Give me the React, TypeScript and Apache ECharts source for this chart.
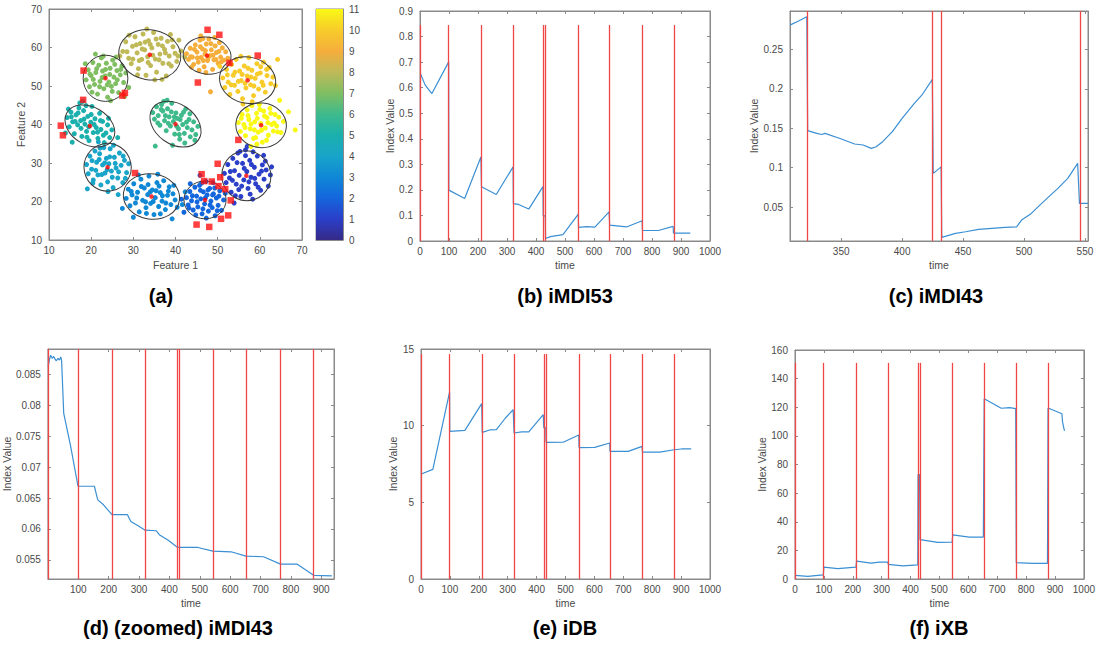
import React, { useEffect, useRef } from 'react';
import * as echarts from 'echarts';

// ---------------- data ----------------
const panelTitles = ['(a)', '(b) iMDI53', '(c) iMDI43', '(d) (zoomed) iMDI43', '(e) iDB', '(f) iXB'];

// parula-like colours for cluster labels 1..11 (colour bar 0..11)
const colorbarStops = ['#352a87', '#2b3fc9', '#1466dd', '#0f88d6', '#19a4c9', '#1bb0ad', '#3fba8b', '#80be62', '#bfb958', '#f6ae3c', '#f7cc2a', '#f9f916'];
const clusterLabels = [1, 2, 3, 4, 5, 6, 7, 8, 9, 10, 11];

const cluster1 = [[51.6,27.3],[52.0,24.9],[52.4,29.6],[52.8,26.1],[53.2,22.4],[53.6,31.2],[54.0,28.0],[54.4,24.5],[54.8,32.6],[55.1,26.8],[55.5,21.3],[55.9,29.9],[56.2,25.6],[56.6,33.4],[56.9,27.8],[57.2,23.4],[57.6,30.7],[57.9,26.3],[58.3,20.6],[58.7,28.9],[59.0,24.6],[59.4,31.8],[59.8,27.1],[60.2,22.9],[60.6,29.5],[61.0,25.8],[61.5,28.2],[62.0,24.0],[62.5,26.9],[57.0,34.3],[53.9,19.6],[56.6,31.9],[58.4,32.9],[55.0,23.1],
  [53.0,27.8],[54.6,30.1],[55.7,24.0],[56.3,28.6],[57.4,25.1],[58.0,29.6],[58.8,26.0],[59.6,23.7],[60.4,27.9],[61.3,30.5],[55.3,33.0],[53.5,25.5],[57.7,21.9],[60.9,32.0],[62.8,29.0],[54.2,21.5]];
const cluster2 = [[42.6,21.0],[43.0,19.1],[43.4,22.6],[43.8,20.2],[44.2,17.8],[44.6,23.7],[45.0,21.4],[45.3,18.6],[45.7,24.2],[46.0,20.7],[46.3,16.8],[46.6,22.5],[46.9,19.4],[47.2,25.2],[47.5,21.7],[47.8,17.5],[48.1,23.4],[48.4,20.1],[48.7,18.4],[49.0,22.0],[49.4,16.3],[49.7,20.9],[50.1,19.0],[50.5,22.8],[50.9,17.7],[51.4,20.4],[45.8,26.8],[42.0,17.2],[41.4,20.6],[43.5,24.6],[47.3,15.7],[48.9,24.9],
  [44.0,21.5],[45.1,19.9],[45.9,22.9],[46.5,18.1],[47.1,21.0],[47.7,23.0],[48.2,19.1],[48.8,21.7],[49.3,23.5],[50.3,21.4],[44.8,16.5],[46.2,24.8],[49.9,17.6],[51.8,22.1],[43.2,18.3]];
const cluster3 = [[28.3,20.8],[28.8,23.2],[29.2,18.9],[29.7,21.7],[30.1,24.6],[30.5,19.6],[31.0,22.4],[31.4,17.3],[31.8,25.8],[32.2,20.3],[32.6,23.5],[33.0,18.4],[33.4,21.8],[33.7,26.6],[34.1,19.5],[34.5,23.0],[34.9,16.6],[35.2,21.0],[35.6,24.9],[36.0,18.7],[36.4,22.3],[36.8,20.1],[37.2,25.4],[37.6,17.9],[38.1,21.6],[38.5,23.8],[38.9,19.2],[39.4,22.0],[39.9,20.4],[40.4,18.5],[39.2,15.5],[41.6,19.2],[42.3,22.5],[27.4,18.2],[30.0,15.9],[35.8,27.1],
  [29.5,22.6],[30.8,20.9],[31.9,23.9],[32.9,19.9],[33.5,24.4],[34.0,22.5],[34.7,20.0],[35.4,22.8],[36.1,24.0],[36.9,21.5],[37.7,19.6],[38.3,22.7],[39.6,24.2],[33.1,16.9],[36.4,16.8],[31.2,26.9]];
const cluster4 = [[18.9,29.6],[19.3,27.2],[19.7,31.8],[20.1,28.4],[20.5,25.6],[20.9,33.1],[21.3,30.2],[21.6,26.9],[22.0,32.4],[22.3,24.3],[22.7,29.5],[23.0,34.0],[23.3,27.4],[23.6,31.2],[23.9,25.1],[24.2,29.8],[24.5,33.7],[24.8,27.9],[25.2,23.6],[25.5,31.5],[25.9,28.7],[26.3,26.1],[26.7,32.6],[27.1,29.4],[27.5,24.9],[27.9,30.7],[28.4,27.5],[28.9,29.8],[19.1,23.3],[26.4,21.8],[21.7,35.5],[24.0,22.6],
  [20.2,30.6],[21.1,28.1],[21.9,30.9],[22.5,27.0],[23.2,30.0],[23.8,28.3],[24.4,31.6],[25.0,26.3],[25.7,29.9],[26.5,27.7],[27.6,31.8],[22.1,33.9],[25.3,34.6],[20.4,24.8],[28.1,26.0]];
const cluster5 = [[14.3,41.8],[14.8,39.4],[15.2,43.2],[15.6,40.7],[16.0,37.6],[16.4,42.5],[16.8,39.9],[17.1,44.3],[17.5,41.0],[17.8,36.9],[18.2,43.6],[18.5,40.1],[18.9,38.2],[19.2,42.1],[19.5,35.8],[19.9,40.6],[20.2,44.7],[20.5,37.9],[20.9,41.5],[21.2,39.2],[21.6,36.4],[22.0,42.9],[22.3,38.7],[22.7,40.8],[23.1,35.3],[23.5,37.8],[23.9,39.9],[24.4,36.6],[24.9,38.6],[15.5,35.4],[26.3,36.6],[13.9,37.8],[18.0,46.0],
  [15.3,42.0],[16.2,40.8],[16.9,43.0],[17.6,39.0],[18.3,41.4],[18.8,44.9],[19.4,39.4],[20.0,42.6],[20.7,40.0],[21.5,38.0],[22.2,41.0],[22.9,37.2],[19.0,36.7],[17.3,45.6],[24.1,41.6],[14.6,44.0]];
const cluster6 = [[34.6,43.1],[35.0,41.4],[35.5,44.6],[35.9,42.3],[36.3,39.8],[36.7,45.2],[37.0,43.5],[37.4,41.0],[37.8,38.4],[38.1,44.1],[38.5,42.0],[38.8,39.6],[39.1,45.5],[39.5,40.8],[39.8,37.5],[40.1,43.0],[40.4,41.6],[40.7,38.9],[41.0,36.2],[41.4,42.4],[41.7,40.0],[42.1,37.7],[42.4,44.0],[42.8,39.2],[43.2,41.3],[43.5,36.8],[43.9,38.6],[44.3,40.7],[44.8,37.4],[45.3,39.5],[39.3,34.6],[35.2,34.4],[38.0,46.3],
  [35.8,40.4],[36.6,43.9],[37.6,42.3],[38.3,40.3],[39.0,43.3],[39.7,42.0],[40.3,39.5],[41.1,41.3],[41.9,43.2],[42.6,40.6],[43.4,42.8],[40.9,37.4],[37.2,46.0],[44.6,35.9],[42.2,35.2]];
const cluster7 = [[18.8,51.6],[19.3,54.2],[19.6,49.8],[20.0,52.7],[20.4,56.1],[20.8,50.4],[21.1,53.5],[21.5,47.9],[21.8,55.4],[22.1,51.2],[22.4,57.3],[22.7,53.9],[23.0,49.3],[23.3,52.6],[23.6,55.9],[23.9,47.1],[24.2,51.0],[24.5,54.6],[24.8,49.9],[25.1,56.7],[25.4,52.3],[25.8,50.6],[26.1,54.0],[26.5,48.3],[26.9,52.9],[27.3,55.2],[27.7,50.9],[28.2,53.4],[21.0,58.3],[24.6,46.2],[18.6,55.8],[28.9,49.6],
  [19.7,53.1],[20.5,51.7],[21.3,54.5],[22.0,49.8],[22.6,52.2],[23.4,54.3],[23.8,50.3],[24.4,53.0],[25.0,48.6],[25.6,55.6],[26.2,51.6],[27.0,54.3],[22.9,57.8],[20.2,48.4],[27.9,47.3],[25.9,57.5]];
const cluster8 = [[27.5,59.0],[28.2,61.5],[28.9,57.2],[29.5,55.8],[29.8,60.3],[30.4,62.8],[30.9,58.6],[31.2,54.5],[31.6,61.0],[32.0,56.9],[32.3,63.5],[32.7,59.4],[33.0,52.8],[33.4,57.6],[33.6,61.8],[34.1,55.3],[34.4,59.9],[34.8,63.9],[35.2,57.0],[35.5,53.6],[35.9,60.8],[36.3,58.3],[36.6,62.4],[37.0,55.9],[37.4,59.5],[37.8,52.6],[38.1,61.6],[38.5,57.8],[39.0,55.2],[39.4,60.2],[39.9,58.5],[40.3,56.4],[40.8,61.9],[41.3,59.1],[33.2,64.8],[29.0,63.2],[36.8,51.7],[38.8,63.4],[42.2,57.5],[26.8,57.8],
  [28.5,58.9],[29.9,57.0],[30.7,60.7],[31.4,56.6],[32.1,59.6],[32.8,61.4],[33.5,56.1],[34.0,60.8],[34.6,58.0],[35.4,62.2],[36.1,56.8],[36.9,60.4],[37.6,58.6],[38.4,55.8],[39.2,62.0],[40.6,57.8],[31.0,52.9],[35.1,51.6]];
const cluster9 = [[42.6,58.4],[43.1,56.9],[43.5,59.8],[44.0,57.5],[44.3,55.6],[44.7,60.7],[45.1,58.8],[45.4,56.2],[45.8,61.9],[46.1,57.4],[46.4,59.6],[46.8,55.0],[47.0,58.3],[47.3,60.9],[47.6,56.6],[47.9,62.2],[48.2,57.9],[48.5,59.4],[48.8,54.3],[49.1,56.8],[49.4,60.4],[49.7,58.7],[50.1,55.9],[50.4,61.3],[50.7,57.5],[51.1,59.9],[51.5,56.7],[51.9,58.9],[52.4,57.2],[47.2,53.5],[45.6,54.1],[46.0,63.0],[48.3,48.5],
  [43.6,57.6],[44.5,59.5],[45.2,57.3],[45.9,60.2],[46.6,56.6],[47.1,59.2],[47.7,57.2],[48.4,61.0],[48.9,58.0],[49.6,56.9],[50.3,59.0],[50.9,56.3],[46.5,62.3],[49.3,62.6],[43.8,54.9]];
const cluster10 = [[51.2,52.1],[51.7,49.6],[52.1,54.3],[52.5,51.0],[52.9,47.8],[53.3,55.6],[53.7,52.8],[54.0,50.2],[54.4,56.9],[54.8,48.6],[55.2,53.9],[55.6,51.4],[55.9,46.7],[56.3,55.2],[56.7,49.5],[57.0,52.6],[57.4,57.4],[57.8,50.3],[58.1,54.1],[58.5,47.5],[58.9,52.0],[59.3,55.8],[59.7,49.2],[60.1,53.4],[60.5,51.0],[60.9,56.2],[61.3,48.4],[61.7,52.7],[62.2,54.8],[62.6,50.6],[63.1,52.3],[64.2,56.9],[56.0,45.3],[50.5,55.1],
  [52.3,52.9],[53.2,50.3],[54.1,53.6],[54.9,51.2],[55.8,53.0],[56.5,50.7],[57.2,54.6],[57.9,52.3],[58.6,50.0],[59.4,53.1],[60.2,55.0],[60.8,50.2],[61.6,54.3],[55.5,57.7],[58.2,45.9],[63.7,50.1]];
const cluster11 = [[54.9,40.5],[55.4,38.2],[55.8,42.6],[56.2,40.0],[56.6,37.1],[57.0,43.8],[57.4,41.3],[57.7,38.9],[58.1,44.9],[58.5,36.4],[58.8,40.7],[59.2,42.9],[59.6,38.0],[59.9,45.2],[60.2,40.3],[60.6,35.4],[60.9,43.5],[61.3,39.1],[61.7,41.8],[62.0,37.2],[62.4,44.2],[62.8,40.0],[63.2,38.3],[63.6,42.6],[64.0,39.6],[64.5,41.9],[65.0,37.9],[65.6,40.8],[68.4,38.6],[64.7,46.3],[57.9,34.3],[59.3,34.9],
  [55.6,41.6],[56.5,39.2],[57.2,42.3],[57.9,40.1],[58.7,38.6],[59.4,41.6],[60.0,43.9],[60.4,38.5],[61.1,42.2],[61.9,40.5],[62.6,42.9],[63.4,40.4],[64.2,38.1],[59.0,36.6],[61.6,35.9],[66.8,43.3]];
const clusterPoints = [cluster1, cluster2, cluster3, cluster4, cluster5, cluster6, cluster7, cluster8, cluster9, cluster10, cluster11];

const clusterCenters = [[56.8,26.7],[47.0,20.4],[34.3,21.3],[23.9,28.9],[19.7,39.6],[40.0,40.1],[23.4,52.0],[33.9,58.1],[47.5,57.9],[57.1,51.5],[60.3,39.8]];
// ellipse: centre x, centre y, semi-axis x, semi-axis y, rotation (deg)
const clusterEllipses = [[56.8,26.7,5.8,6.5,20],[47.0,20.4,5.0,4.9,0],[34.3,21.3,6.7,5.9,-8],[23.9,28.9,5.6,6.2,12],[19.7,39.6,6.3,4.9,-30],[40.0,40.1,6.6,5.2,-35],[23.4,52.0,5.3,6.0,0],[33.9,58.1,7.4,6.5,-10],[47.5,57.9,5.7,4.8,-8],[57.1,51.5,6.7,6.0,-12],[60.3,39.8,6.0,5.8,-5]];
const outlierPoints = [[47.6,64.6],[50.4,63.3],[52.8,56.0],[59.5,57.9],[45.3,50.9],[18.2,54.0],[27.4,47.5],[28.0,48.2],[18.1,46.4],[12.8,39.7],[13.3,37.2],[54.9,36.0],[30.4,27.4],[50.0,29.8],[46.2,27.1],[46.8,25.3],[48.6,25.2],[50.6,26.3],[50.2,24.0],[51.8,23.2],[53.1,20.3],[50.8,15.5],[52.5,16.4],[45.0,14.0],[48.0,13.4]];

// change points (time) marked by red lines
const changePoints = [1, 99, 212, 322, 425, 432, 546, 654, 766, 875];

const iMDI53 = [[1,0.656],[18,0.61],[41,0.577],[99,0.701],[99.5,0.199],[154,0.166],[210,0.329],[212,0.212],[263,0.182],[321,0.29],[322,0.146],[340,0.143],[375,0.125],[424,0.213],[425,0.098],[432,0.098],[433,0.01],[450,0.017],[493,0.025],[546,0.105],[546.5,0.053],[575,0.056],[603,0.054],[652,0.114],[654,0.062],[712,0.055],[766,0.079],[767,0.041],[822,0.041],[873,0.057],[874,0.031],[932,0.031]];
const iMDI43Part = [[308.3,0.281],[315,0.286],[321.8,0.2914],[322.5,0.147],[330,0.1435],[334,0.142],[336.7,0.1434],[349,0.137],[361,0.130],[368,0.1287],[374.7,0.1244],[378.7,0.1265],[384,0.1329],[392,0.1456],[400,0.1625],[410,0.1815],[416.7,0.193],[424.8,0.212],[425.5,0.0927],[432,0.101],[432.5,0.0115],[443.8,0.0166],[452,0.0187],[462.7,0.0217],[473.6,0.023],[484.4,0.0242],[493.9,0.025],[498,0.0335],[506,0.042],[513,0.0525],[518,0.0597],[527.8,0.0737],[535.9,0.0864],[544,0.1054],[545.5,0.0547],[552.5,0.0547]];
const iMDI43Zoomed = [[1,0.0863],[5,0.0874],[9,0.0881],[14,0.0876],[19,0.0879],[24,0.0874],[28,0.0872],[33,0.0876],[38,0.0873],[42,0.0878],[45,0.0873],[52,0.0787],[74,0.0736],[99,0.0669],[153,0.0669],[164,0.0647],[183,0.0639],[211,0.0623],[262,0.0623],[273,0.0612],[297,0.0605],[320,0.0598],[357,0.0597],[368,0.059],[395,0.0582],[424,0.0571],[432,0.057],[494,0.057],[543,0.0564],[603,0.0563],[652,0.0556],[710,0.0555],[766,0.0543],[821,0.0543],[875,0.0525],[935,0.0524]];
const iDB = [[1,6.85],[41,7.15],[99,12.2],[99.5,9.63],[152,9.69],[210,11.44],[212,9.56],[238,9.72],[261,9.74],[292,10.5],[319,11.04],[322,9.52],[348,9.59],[373,9.6],[423,10.72],[425,9.85],[432,9.85],[433,8.91],[492,8.92],[546,9.39],[547,8.57],[601,8.58],[653,8.87],[654,8.32],[717,8.32],[765,8.65],[766,8.28],[826,8.28],[876,8.43],[901,8.48],[935,8.48]];
const iXB = [[1,2.5],[44,1.9],[98,2.9],[100,8.3],[148,7.2],[211,8.3],[213,12.5],[263,11.1],[292,11.8],[321,11.8],[323,10.2],[373,9.2],[425,9.9],[426,73],[431,73],[433,27.5],[494,25.6],[544,25.7],[546,30.8],[603,29.2],[652,29.3],[655,126],[714,119.3],[743,119.8],[764,119.0],[766,11.5],[822,10.9],[874,10.9],[876,119.5],[924,115.5],[926,110],[930,106],[933,103.5]];

// tick labels of the zoomed panels
const cTicksX = [350, 400, 450, 500, 550];
const cTicksY = [0.05, 0.1, 0.15, 0.2, 0.25];
const dTicksX = [100, 200, 300, 400, 500, 600, 700, 800, 900];
const dTicksY = [0.055, 0.06, 0.065, 0.07, 0.075, 0.08, 0.085];

// ---------------- chart ----------------
const FONT = '"Liberation Sans", Arial, Helvetica, sans-serif';
const AXIS_COLOR = '#8a8a8a';
const LABEL_COLOR = '#4a4a4a';
const BLUE = '#3b8fd3';
const RED = '#f04646';

type AxisSpec = { min: number; max: number; interval?: number; custom?: number[]; name?: string; nameGap?: number };
type Panel = { grid: any; x: AxisSpec; y: AxisSpec };

const panels: Panel[] = [
  { grid: { left: 49, top: 9, width: 253, height: 231 }, x: { min: 10, max: 70, interval: 10, name: 'Feature 1', nameGap: 19 }, y: { min: 10, max: 70, interval: 10, name: 'Feature 2', nameGap: 17 } },
  { grid: { left: 420, top: 11, width: 290, height: 230 }, x: { min: 0, max: 1000, interval: 100, name: 'time', nameGap: 18 }, y: { min: 0, max: 0.9, interval: 0.1, name: 'Index Value', nameGap: 15 } },
  { grid: { left: 790, top: 11, width: 298, height: 230 }, x: { min: 308, max: 552.5, custom: cTicksX, name: 'time', nameGap: 18 }, y: { min: 0.007, max: 0.2986, custom: cTicksY, name: 'Index Value', nameGap: 14 } },
  { grid: { left: 45, top: 349, width: 289, height: 230 }, x: { min: 0, max: 942, custom: dTicksX, name: 'time', nameGap: 18 }, y: { min: 0.0519, max: 0.0891, custom: dTicksY, name: 'Index Value', nameGap: 28 } },
  { grid: { left: 421, top: 349, width: 289, height: 230 }, x: { min: 0, max: 1000, interval: 100, name: 'time', nameGap: 18 }, y: { min: 0, max: 15, interval: 5, name: 'Index Value', nameGap: 17 } },
  { grid: { left: 795, top: 350, width: 289, height: 229 }, x: { min: 0, max: 1000, interval: 100, name: 'time', nameGap: 18 }, y: { min: 0, max: 160, interval: 20, name: 'Index Value', nameGap: 20 } },
];
const titlePos = [[161, 296], [565, 296], [936, 296], [178, 628], [565, 628], [939, 628]];

const tickFormatter = (v: number) => String(Math.round(v * 1e6) / 1e6);

function axisCfg(dim: 'x' | 'y', spec: AxisSpec, gridIndex: number, mirror: boolean) {
  const base: any = {
    type: 'value',
    gridIndex,
    min: spec.min,
    max: spec.max,
    position: dim === 'x' ? (mirror ? 'top' : 'bottom') : (mirror ? 'right' : 'left'),
    splitLine: { show: false },
    axisLine: { show: true, onZero: false, lineStyle: { color: AXIS_COLOR, width: 1 } },
    axisTick: { show: true, inside: true, length: 3, lineStyle: { color: AXIS_COLOR } },
    axisLabel: {
      show: !mirror,
      color: LABEL_COLOR,
      fontFamily: FONT,
      fontSize: 10,
      margin: dim === 'x' ? 5 : 7,
      showMinLabel: true,
      showMaxLabel: true,
      formatter: tickFormatter,
    },
  };
  if (spec.interval !== undefined) base.interval = spec.interval;
  if (spec.custom) {
    base.axisTick.customValues = spec.custom;
    base.axisLabel.customValues = spec.custom;
  }
  if (!mirror && spec.name) {
    base.name = spec.name;
    base.nameLocation = 'middle';
    base.nameGap = spec.nameGap;
    base.nameTextStyle = { color: LABEL_COLOR, fontFamily: FONT, fontSize: 10.5 };
  }
  return base;
}

function changeLines(xs: AxisSpec, lo: number, hi: number) {
  return {
    silent: true,
    symbol: ['none', 'none'],
    label: { show: false },
    emphasis: { disabled: true },
    lineStyle: { color: RED, width: 1.3, type: 'solid' },
    data: changePoints
      .filter((t) => t >= xs.min && t <= xs.max)
      .map((t) => [{ coord: [t, lo] }, { coord: [t, hi] }]),
  };
}

export default function App() {
  const ref = useRef<HTMLDivElement>(null);
  useEffect(() => {
    if (!ref.current) return;
    const chart = echarts.init(ref.current, undefined, { renderer: 'svg' });

    const grids: any[] = panels.map((p) => ({ ...p.grid, show: true, borderColor: AXIS_COLOR, borderWidth: 1, containLabel: false }));
    grids.push({ left: 316, top: 9, width: 27, height: 231, show: true, borderColor: AXIS_COLOR, borderWidth: 1 });

    const xAxes: any[] = [];
    const yAxes: any[] = [];
    panels.forEach((p, g) => {
      xAxes.push(axisCfg('x', p.x, g, false));
      xAxes.push(axisCfg('x', p.x, g, true));
      yAxes.push(axisCfg('y', p.y, g, false));
      yAxes.push(axisCfg('y', p.y, g, true));
    });
    // colour bar axes
    const cbIndex = xAxes.length;
    xAxes.push({ type: 'category', gridIndex: 6, data: [''], axisLine: { show: true, lineStyle: { color: AXIS_COLOR } }, axisTick: { show: false }, axisLabel: { show: false } });
    yAxes.push({
      type: 'value', gridIndex: 6, min: 0, max: 11, interval: 1, position: 'right',
      splitLine: { show: false },
      axisLine: { show: true, lineStyle: { color: AXIS_COLOR } },
      axisTick: { show: true, inside: true, length: 3, lineStyle: { color: AXIS_COLOR } },
      axisLabel: { color: LABEL_COLOR, fontFamily: FONT, fontSize: 10, margin: 6 },
    });

    const series: any[] = [];
    // (a) scatter clusters
    clusterPoints.forEach((pts, i) => {
      series.push({
        type: 'scatter', xAxisIndex: 0, yAxisIndex: 0, data: pts,
        symbol: 'circle', symbolSize: 5, silent: true,
        itemStyle: { color: colorbarStops[clusterLabels[i]], opacity: 1 },
        z: 2,
      });
    });
    series.push({
      type: 'custom', xAxisIndex: 0, yAxisIndex: 0, data: clusterEllipses, silent: true, z: 3,
      encode: { x: 0, y: 1 },
      renderItem: (_params: any, api: any) => {
        const c = api.coord([api.value(0), api.value(1)]);
        const rx = api.size([api.value(2), 0])[0];
        const ry = api.size([0, api.value(3)])[1];
        return {
          type: 'ellipse', x: c[0], y: c[1], rotation: (api.value(4) * Math.PI) / 180,
          shape: { cx: 0, cy: 0, rx, ry },
          style: { fill: 'none', stroke: '#3a3a3a', lineWidth: 1 },
        };
      },
    });
    series.push({
      type: 'scatter', xAxisIndex: 0, yAxisIndex: 0, data: outlierPoints, symbol: 'rect', symbolSize: 6.5, silent: true,
      itemStyle: { color: '#ff1010' }, z: 4,
    });
    series.push({
      type: 'scatter', xAxisIndex: 0, yAxisIndex: 0, data: clusterCenters, symbol: 'circle', symbolSize: 4.5, silent: true,
      itemStyle: { color: '#ff0000' }, z: 5,
    });

    // line panels
    const lineSets = [
      { g: 1, data: iMDI53, lo: 0, hi: 0.845 },
      { g: 2, data: iMDI43Part, lo: panels[2].y.min, hi: panels[2].y.max },
      { g: 3, data: iMDI43Zoomed, lo: panels[3].y.min, hi: panels[3].y.max },
      { g: 4, data: iDB, lo: 0, hi: 14.67 },
      { g: 5, data: iXB, lo: 0, hi: 151 },
    ];
    lineSets.forEach((s) => {
      series.push({
        type: 'line', xAxisIndex: 2 * s.g, yAxisIndex: 2 * s.g, data: s.data,
        symbol: 'none', showSymbol: false, silent: true, clip: true,
        lineStyle: { color: BLUE, width: 1.2 },
        markLine: changeLines(panels[s.g].x, s.lo, s.hi),
      });
    });

    // colour bar
    series.push({
      type: 'bar', xAxisIndex: cbIndex, yAxisIndex: yAxes.length - 1, data: [11], barWidth: '100%', silent: true,
      itemStyle: {
        color: new echarts.graphic.LinearGradient(0, 1, 0, 0, colorbarStops.map((c, i) => ({ offset: i / 11, color: c }))),
      },
    });

    const graphic = panelTitles.map((t, i) => ({
      type: 'text', x: titlePos[i][0], y: titlePos[i][1], silent: true,
      style: { text: t, fill: '#000', font: `bold 20px ${FONT}`, align: 'center', verticalAlign: 'middle' },
    }));

    chart.setOption({
      animation: false,
      backgroundColor: '#ffffff',
      textStyle: { fontFamily: FONT },
      grid: grids,
      xAxis: xAxes,
      yAxis: yAxes,
      series,
      graphic,
    });
    return () => chart.dispose();
  }, []);

  return <div ref={ref} style={{ position: 'fixed', left: 0, top: 0, width: 1098, height: 652, background: '#fff' }} />;
}
